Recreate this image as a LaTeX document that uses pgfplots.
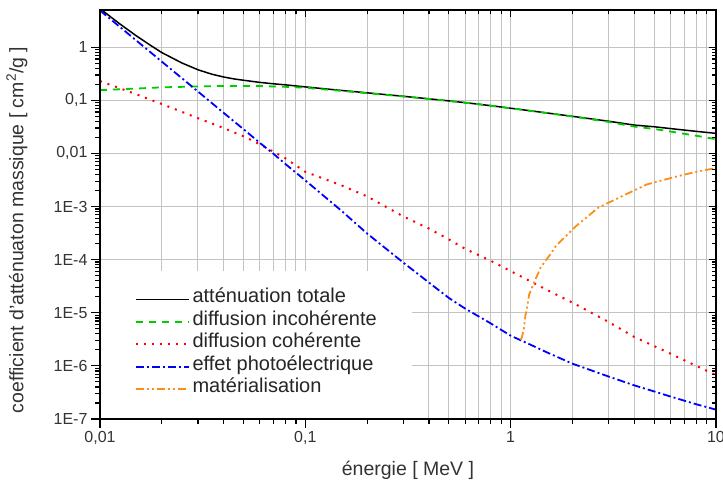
\documentclass[border=0pt]{standalone}
\usepackage{fontspec}
\setmainfont{Liberation Sans}
\usepackage{pgfplots}
\pgfplotsset{compat=1.18}
\definecolor{cgreen}{RGB}{0,204,0}
\definecolor{cred}{RGB}{255,0,0}
\definecolor{cblue}{RGB}{0,0,255}
\definecolor{corange}{RGB}{255,140,20}
\definecolor{cgrid}{RGB}{195,195,195}
\begin{document}
\begin{tikzpicture}
\useasboundingbox (0,0) rectangle (723pt,484pt);
\begin{axis}[
  at={(100pt,65pt)}, anchor=south west,
  width=616pt, height=409pt, scale only axis,
  xmode=log, ymode=log,
  xmin=0.01, xmax=10, ymin=1e-7, ymax=5,
  xtick={0.01,0.1,1,10},
  xticklabels={{0,01},{0,1},1,10},
  ytick={1e-7,1e-6,1e-5,1e-4,1e-3,0.01,0.1,1},
  yticklabels={1E-7,1E-6,1E-5,1E-4,1E-3,{0,01},{0,1},1},
  /pgf/number format/assume math mode=true,
  xtick pos=left, ytick pos=left,
  tick align=outside,
  major tick length=9pt, minor tick length=5pt,
  tick style={line width=1.2pt, black},
  axis line style={line width=1.5pt},
  xmajorgrids, xminorgrids, ymajorgrids,
  grid style={line width=1pt, cgrid},
  major grid style={line width=1pt, cgrid},
  minor grid style={line width=1pt, cgrid},
  tick label style={font=\fontsize{16}{19}\selectfont, text=black!80},
  label style={font=\fontsize{19.5}{24}\selectfont, text=black!80},
  xlabel={énergie [ MeV ]},
  ylabel={coefficient d'atténuaton massique [ cm\textsuperscript{2}/g ]},
  xlabel style={at={(axis description cs:0.5,-0.139)}, anchor=base},
  ylabel style={at={(axis description cs:-0.135,0.462)}, anchor=center},
  legend cell align=left,
  legend image code/.code={\draw[#1] (0pt,0pt) -- (53pt,0pt);},
  legend style={at={(axis description cs:0.003,0.003)}, anchor=south west,
    draw=none, fill=white, inner xsep=33pt, inner ysep=17pt,
    font=\fontsize{20}{24}\selectfont, text=black!85,
    nodes={inner xsep=2.5pt, inner ysep=0pt, text height=14.5pt, text depth=8pt}},
]
% atténuation totale
\addplot[black, line width=1.5pt] coordinates {
(0.01,5.3)(0.0125,2.73)(0.015,1.64)(0.0175,1.10)(0.02,0.79)(0.025,0.505)
(0.03,0.375)(0.035,0.31)(0.04,0.274)(0.045,0.252)(0.05,0.238)(0.06,0.217)
(0.07,0.204)(0.08,0.195)(0.09,0.186)(0.1,0.1785)
(0.15,0.153)(0.2,0.138)(0.3,0.1187)(0.4,0.1064)(0.5,0.0973)(0.6,0.0902)
(0.8,0.0791)(1,0.0708)(1.25,0.0633)(1.5,0.0577)(2,0.0498)(3,0.0403)
(4,0.0341)(5,0.0317)(6,0.0293)(8,0.026)(10,0.0238)};
\addlegendentry{atténuation totale}
% diffusion incohérente
\addplot[cgreen, line width=1.8pt, dash pattern=on 7pt off 6pt] coordinates {
(0.01,0.155)(0.015,0.166)(0.02,0.175)(0.03,0.182)(0.04,0.186)(0.05,0.186)
(0.06,0.185)(0.08,0.179)(0.1,0.172)(0.15,0.150)(0.2,0.136)(0.3,0.118)
(0.4,0.106)(0.5,0.097)(0.6,0.090)(0.8,0.079)(1,0.0707)(1.25,0.0632)
(1.5,0.0575)(2,0.0494)(3,0.0391)(4,0.032)(5,0.0288)(6,0.0258)(8,0.0215)(10,0.0185)};
\addlegendentry{diffusion incohérente}
% diffusion cohérente
\addplot[cred, line width=2pt, dash pattern=on 2pt off 6pt] coordinates {
(0.01,0.23)(0.015,0.13)(0.02,0.085)(0.03,0.046)(0.04,0.030)(0.05,0.021)
(0.06,0.0148)(0.08,0.0081)(0.1,0.0045)(0.15,0.0025)(0.2,0.00155)(0.3,6.5e-4)
(0.4,3.85e-4)(0.5,2.4e-4)(0.6,1.6e-4)(0.8,9.5e-5)(1,6.1e-5)(1.25,3.9e-5)
(1.5,2.7e-5)(2,1.55e-5)(3,6.7e-6)(4,3.5e-6)(5,2.36e-6)(6,1.7e-6)(8,1.0e-6)(10,6.7e-7)};
\addlegendentry{diffusion cohérente}
% effet photoélectrique
\addplot[cblue, line width=1.8pt, dash pattern=on 8pt off 3pt on 2pt off 3pt] coordinates {
(0.01,4.9)(0.0125,2.40)(0.015,1.34)(0.0175,0.82)(0.02,0.533)(0.025,0.262)
(0.03,0.146)(0.035,0.089)(0.04,0.058)(0.05,0.0285)(0.06,0.0158)(0.07,0.0098)(0.08,0.0063)
(0.1,0.0031)(0.15,8.3e-4)(0.2,3.1e-4)(0.3,8.8e-5)(0.4,3.7e-5)(0.5,1.9e-5)
(0.6,1.2e-5)(0.8,6.3e-6)(1,3.7e-6)(1.25,2.5e-6)(1.5,1.8e-6)(2,1.1e-6)
(3,6.3e-7)(4,4.3e-7)(5,3.3e-7)(6,2.65e-7)(8,1.9e-7)(10,1.5e-7)};
\addlegendentry{effet photoélectrique}
% matérialisation
\addplot[corange, line width=1.8pt, dash pattern=on 8pt off 3pt on 2pt off 3pt on 2pt off 3pt] coordinates {
(1.12,3.1e-6)(1.135,3.5e-6)(1.16,5.0e-6)(1.18,8.9e-6)(1.20,1.2e-5)(1.23,2.2e-5)
(1.30,3.7e-5)(1.40,7.1e-5)(1.56,1.26e-4)(1.66,1.8e-4)(2.07,4.2e-4)(2.67,9.5e-4)
(3.6,1.66e-3)(4.6,2.6e-3)(6.3,3.6e-3)(8,4.5e-3)(10,5.3e-3)};
\addlegendentry{matérialisation}
\end{axis}
% mirrored ticks on top and right
\begin{axis}[
  at={(100pt,65pt)}, anchor=south west,
  width=616pt, height=409pt, scale only axis,
  xmode=log, ymode=log,
  xmin=0.01, xmax=10, ymin=1e-7, ymax=5,
  xtick={0.01,0.1,1,10},
  ytick={1e-7,1e-6,1e-5,1e-4,1e-3,0.01,0.1,1},
  xticklabels={}, yticklabels={},
  xtick pos=right, ytick pos=right,
  tick align=inside,
  major tick length=7pt, minor tick length=4pt,
  tick style={line width=1.2pt, black},
  axis line style={line width=1.5pt},
]
\end{axis}
\end{tikzpicture}
\end{document}
